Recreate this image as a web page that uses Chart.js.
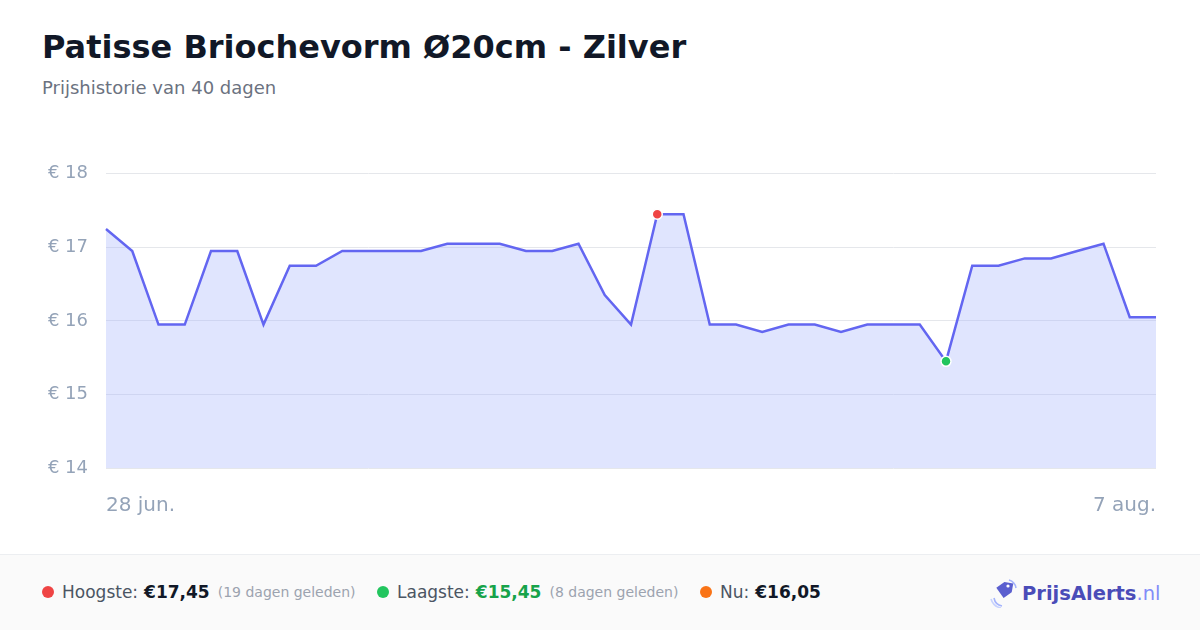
<!DOCTYPE html>
<html>
<head>
<meta charset="utf-8">
<script src="https://cdn.jsdelivr.net/npm/chart.js@4/dist/chart.umd.min.js"></script>
<style>
  html, body { margin: 0; padding: 0; }
  body {
    width: 1200px; height: 630px; background: #fff; position: relative; overflow: hidden;
    font-family: "DejaVu Sans", sans-serif;
  }
  h1 { position: absolute; left: 42px; top: 28px; margin: 0; font-size: 32px; font-weight: bold; color: #111827; }
  .sub { position: absolute; left: 42px; top: 77px; font-size: 18px; color: #6b7280; }
  #wrap { position: absolute; left: 40px; top: 145px; width: 1134px; height: 373px; }
  .footer {
    position: absolute; left: 0; top: 554px; width: 1200px; height: 76px;
    background: #fafafa; border-top: 1px solid #eceef1; box-sizing: border-box;
  }
  .item { position: absolute; top: 27px; font-size: 17px; color: #4b5563; white-space: nowrap; display: flex; align-items: center; }
  .dot { width: 12px; height: 12px; border-radius: 50%; display: inline-block; margin-right: 8px; }
  .item b { color: #111827; margin-left: 6px; }
  .item small { font-size: 14px; color: #9ca3af; margin-left: 8px; }
  .logo { position: absolute; left: 990px; top: 23px; display: flex; align-items: center; }
  .logo span { font-size: 19.5px; font-weight: bold; color: #4a4cb8; margin-left: 4px; }
  .logo span i { font-style: normal; font-weight: normal; color: #818cf8; }
</style>
</head>
<body>
<h1>Patisse Briochevorm Ø20cm - Zilver</h1>
<div class="sub">Prijshistorie van 40 dagen</div>
<div id="wrap"><canvas id="chart"></canvas></div>
<div class="footer">
  <div class="item" style="left:42px"><span class="dot" style="background:#ef4444"></span>Hoogste:<b>€17,45</b><small>(19 dagen geleden)</small></div>
  <div class="item" style="left:377px"><span class="dot" style="background:#22c55e"></span>Laagste:<b style="color:#16a34a">€15,45</b><small>(8 dagen geleden)</small></div>
  <div class="item" style="left:700px"><span class="dot" style="background:#f97316"></span>Nu:<b>€16,05</b></div>
  <div class="logo">
    <svg width="28" height="30" viewBox="0 0 28 30">
      <path d="M4 20 A10 10 0 0 0 12 28" stroke="#a5b4fc" stroke-width="1.6" fill="none"/>
      <path d="M1 21 A13 13 0 0 0 11 30" stroke="#c7d2fe" stroke-width="1.6" fill="none"/>
      <path d="M19 2 A10 10 0 0 1 26 10" stroke="#a5b4fc" stroke-width="1.6" fill="none"/>
      <path d="M6 11 L13 4 L22 4 L22 13 L15 20 Z" fill="#5b5fcf" transform="rotate(10 14 12)"/>
      <circle cx="18" cy="8" r="1.6" fill="#fff"/>
    </svg>
    <span>PrijsAlerts<i>.nl</i></span>
  </div>
</div>
<script>
// 28 jun. t/m 7 aug.
const labels = [
  "28 jun.", "29 jun.", "30 jun.", "1 jul.", "2 jul.", "3 jul.", "4 jul.", "5 jul.", "6 jul.", "7 jul.",
  "8 jul.", "9 jul.", "10 jul.", "11 jul.", "12 jul.", "13 jul.", "14 jul.", "15 jul.", "16 jul.", "17 jul.",
  "18 jul.", "19 jul.", "20 jul.", "21 jul.", "22 jul.", "23 jul.", "24 jul.", "25 jul.", "26 jul.", "27 jul.",
  "28 jul.", "29 jul.", "30 jul.", "31 jul.", "1 aug.", "2 aug.", "3 aug.", "4 aug.", "5 aug.", "6 aug.", "7 aug."
];
const prices = [
  17.25, 16.95, 15.95, 15.95, 16.95, 16.95, 15.95, 16.75, 16.75, 16.95,
  16.95, 16.95, 16.95, 17.05, 17.05, 17.05, 16.95, 16.95, 17.05, 16.35,
  15.95, 17.45, 17.45, 15.95, 15.95, 15.85, 15.95, 15.95, 15.85, 15.95,
  15.95, 15.95, 15.45, 16.75, 16.75, 16.85, 16.85, 16.95, 17.05, 16.05, 16.05
];
const yTicks = [14, 15, 16, 17, 18];

const maxIdx = prices.indexOf(Math.max(...prices));
const minIdx = prices.indexOf(Math.min(...prices));

const radii = prices.map((v, i) => (i === maxIdx || i === minIdx) ? 5 : 0);
const pointColors = prices.map((v, i) => i === maxIdx ? "#ef4444" : (i === minIdx ? "#22c55e" : "#6366f1"));

new Chart(document.getElementById("chart"), {
  type: "line",
  data: {
    labels: labels,
    datasets: [{
      data: prices,
      borderColor: "#6366f1",
      borderWidth: 2.5,
      backgroundColor: "rgba(165,180,252,0.34)",
      fill: "start",
      tension: 0,
      pointRadius: radii,
      pointHoverRadius: radii,
      pointBackgroundColor: pointColors,
      pointBorderColor: "#fff",
      pointBorderWidth: 1.5
    }]
  },
  options: {
    responsive: true,
    maintainAspectRatio: false,
    animation: false,
    layout: { padding: { top: 13, right: 4, left: 0, bottom: 0 } },
    plugins: { legend: { display: false }, tooltip: { enabled: false } },
    scales: {
      x: {
        grid: { display: false },
        border: { display: false },
        ticks: {
          autoSkip: false,
          maxRotation: 0,
          align: "inner",
          padding: 18,
          color: "#94a3b8",
          font: { family: "DejaVu Sans", size: 20 },
          callback: function (v, i) {
            return (i === 0 || i === labels.length - 1) ? labels[i] : "";
          }
        },
        afterFit: function (s) { s.height = 50; }
      },
      y: {
        min: yTicks[0],
        max: yTicks[yTicks.length - 1],
        afterBuildTicks: function (s) { s.ticks = yTicks.map(v => ({ value: v })); },
        grid: { color: "#e5e7eb", drawTicks: false },
        border: { display: false },
        ticks: {
          padding: 18,
          color: "#94a3b8",
          font: { family: "DejaVu Sans", size: 18 },
          callback: function (v) { return "€ " + v; }
        },
        afterFit: function (s) { s.width = 66; }
      }
    }
  }
});
</script>
</body>
</html>
